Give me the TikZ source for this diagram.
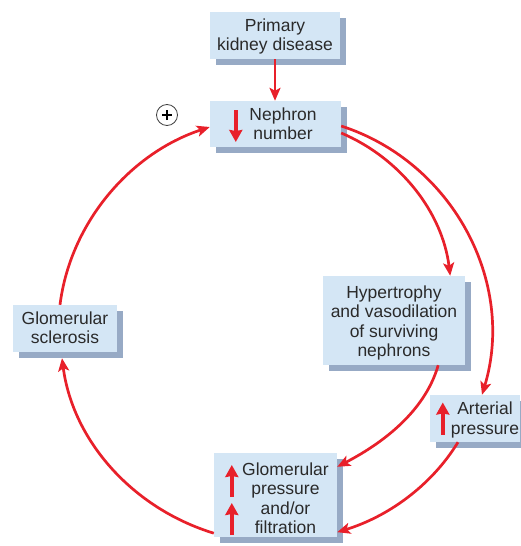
\documentclass[tikz,border=0pt]{standalone}
\usepackage{fontspec}
\setmainfont{Liberation Sans}
\usetikzlibrary{arrows.meta,shadows}
\definecolor{boxfill}{HTML}{D4E6F5}
\definecolor{shadowc}{HTML}{97AAC5}
\definecolor{redc}{HTML}{E8202A}
\definecolor{txtc}{HTML}{2A2A2A}
\newcommand{\lowtxt}[2]{\raisebox{-#1}[\height][\depth]{\begin{tabular}{@{}c@{}}#2\end{tabular}}}
\tikzset{
  box/.style={rectangle, fill=boxfill, inner sep=0pt, text=txtc, align=center,
    general shadow={fill=shadowc, shadow xshift=6pt, shadow yshift=-6pt},
    font=\fontsize{17.5}{19.5}\selectfont},
  conn/.style={draw=redc, line width=2.7pt, -{Stealth[length=13pt,width=11pt,inset=3pt]}},
  updown/.style={draw=redc, line width=4.5pt, -{Stealth[length=12pt,width=13pt,inset=1pt]}},
}
\begin{document}
\begin{tikzpicture}[x=1pt,y=-1pt]
\useasboundingbox (0,0) rectangle (520,546);
% boxes
\node[box, minimum width=130pt, minimum height=47pt] (prim) at (275,35.5) {\lowtxt{1.5pt}{Primary\\kidney disease}};
\node[box, minimum width=131pt, minimum height=46pt] (neph) at (275.5,124)
  {\hspace*{15pt}\lowtxt{2pt}{Nephron\\number}};
\node[box, minimum width=104pt, minimum height=47pt] (scl) at (65,328.5) {\lowtxt{1.5pt}{Glomerular\\sclerosis}};
\node[box, minimum width=142pt, minimum height=89pt] (hyp) at (394,320.5)
  {\lowtxt{3pt}{Hypertrophy\\and vasodilation\\of surviving\\nephrons}};
\node[box, minimum width=90pt, minimum height=47pt] (art) at (475,418.5)
  {\hspace*{20pt}\lowtxt{2pt}{Arterial\\pressure}};
\node[box, minimum width=123pt, minimum height=84pt] (glom) at (275.5,495)
  {\hspace*{20pt}\lowtxt{5.5pt}{Glomerular\\pressure\\and/or\\filtration}};
% plus sign
\node[circle, draw=black!75, line width=0.8pt, minimum size=21pt, inner sep=0pt] (plus) at (167,115) {};
\draw[line width=1.8pt, black] ([xshift=-5pt]plus.center) -- ([xshift=5pt]plus.center)
  ([yshift=-5pt]plus.center) -- ([yshift=5pt]plus.center);
% in-box arrows
\draw[updown] ([xshift=26pt,yshift=14pt]neph.west) -- ([xshift=26pt,yshift=-18pt]neph.west);
\draw[updown] ([xshift=13pt,yshift=-16pt]art.west) -- ([xshift=13pt,yshift=16pt]art.west);
\draw[updown] ([xshift=18pt,yshift=-2pt]glom.west) -- ([xshift=18pt,yshift=30pt]glom.west);
\draw[updown] ([xshift=18pt,yshift=-40pt]glom.west) -- ([xshift=18pt,yshift=-8pt]glom.west);
% connectors
\draw[conn] (prim.south) -- (prim.south |- neph.north);
\draw[conn] ([yshift=-2pt]neph.east) .. controls +(111.6,36.1) and +(34.1,-112.3) .. ([xshift=7pt]art.north);
\draw[conn] ([yshift=-9pt]neph.east) .. controls +(59,25) and +(-7.7,-63.4) .. ([xshift=-15pt]hyp.north east);
\draw[conn] ([xshift=-27pt]hyp.south east) .. controls +(-12,42) and +(52,-27) .. ([yshift=-14pt]glom.north east);
\draw[conn] ([xshift=-17pt]art.south) .. controls +(-27.2,44.4) and +(49.8,-15.3) .. ([yshift=5pt]glom.south east);
\draw[conn] ([yshift=4pt]glom.south west) .. controls +(-80.3,-24.5) and +(10.9,83.3) .. ([xshift=-3pt,yshift=-6pt]scl.south);
\draw[conn] ([xshift=-5pt]scl.north) .. controls +(10.4,-82.6) and +(-79.1,26.0) .. ([yshift=-3pt]neph.west);
\end{tikzpicture}
\end{document}
